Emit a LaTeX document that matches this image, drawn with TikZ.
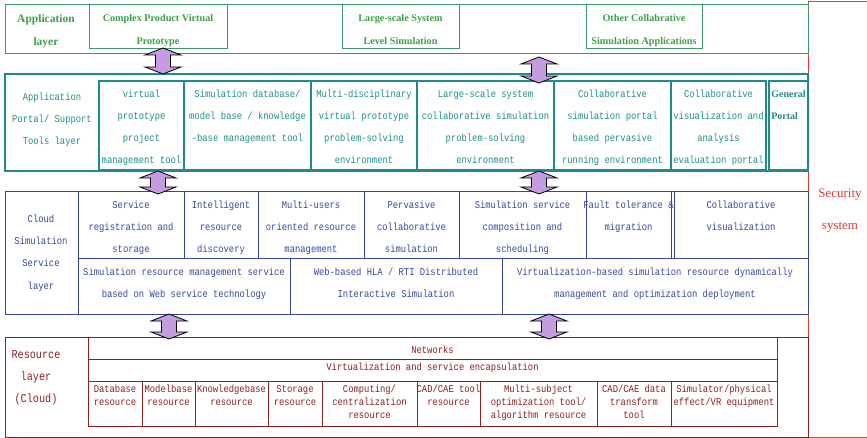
\documentclass[tikz,border=0pt]{standalone}
\usepackage{fontspec}
\setmainfont{Liberation Serif}
\setmonofont{Liberation Mono}[FakeStretch=0.85]
\usepackage{tikz}
\definecolor{leafgreen}{HTML}{3FA048}
\definecolor{appline}{HTML}{3A9B6A}
\definecolor{tealline}{HTML}{1E8C8C}
\definecolor{cloudblue}{HTML}{3546A0}
\definecolor{rustred}{HTML}{8E1F1F}
\definecolor{alarmred}{HTML}{E53935}
\definecolor{lilac}{HTML}{C49CE0}

\newcommand{\firststrut}{\rule{0pt}{9pt}}
% frame of a layer: name, x1, y1, x2, y2, style
\newcommand{\layerframe}[6]{%
  \node[#6, minimum width={(#4-#2)*1pt}, minimum height={(#5-#3)*1pt}] (#1) at ({(#2+#4)/2},{(#3+#5)/2}) {};}
% box with top-aligned text: name, x1, y1, x2, y2, style prefix, first line y, text
\newcommand{\simcell}[8]{%
  \node[#6box, minimum width={(#4-#2)*1pt}, minimum height={(#5-#3)*1pt}] (#1) at ({(#2+#4)/2},{(#3+#5)/2}) {};
  \node[#6text, anchor=north] (#1-t) at ({(#2+#4)/2},{#7-5.9}) {\firststrut#8};}
% two-headed block arrow: x, top tip, bottom tip
\newcommand{\dualarrow}[3]{%
  \draw[updown] (#1,#2) -- ++(18,7) -- ++(-10.5,0) -- ({#1+7.5},{#3-7}) -- ++(10.5,0)
    -- (#1,#3) -- ++(-18,-7) -- ++(10.5,0) -- ({#1-7.5},{#2+7}) -- ++(-10.5,0) -- cycle;}

\begin{document}
\begin{tikzpicture}[x=1pt, y=-1pt,
  appbox/.style={draw=appline, line width=1pt, inner sep=0},
  apptext/.style={font=\fontsize{10.2}{22.5}\selectfont\bfseries, text=leafgreen, align=center, inner sep=0},
  portbox/.style={draw=tealline, line width=1.1pt, inner sep=0},
  porttext/.style={font=\ttfamily\fontsize{10.4}{22}\selectfont, text=tealline, align=center, inner sep=0},
  genbox/.style={portbox},
  gentext/.style={font=\fontsize{10}{22}\selectfont\bfseries, text=tealline, align=left, inner sep=0},
  cloudbox/.style={draw=cloudblue, line width=1pt, inner sep=0},
  cloudtext/.style={font=\ttfamily\fontsize{10.4}{22.3}\selectfont, text=cloudblue, align=center, inner sep=0},
  resbox/.style={draw=rustred, line width=1pt, inner sep=0},
  restext/.style={font=\ttfamily\fontsize{10.4}{13}\selectfont, text=rustred, align=center, inner sep=0},
  updown/.style={fill=lilac, draw=black, line width=0.8pt, line join=miter}]
  \useasboundingbox (0,0) rectangle (867,438);

  % Security system
  \node[draw=alarmred, line width=1pt, inner sep=0, minimum width=64pt, minimum height=435pt] (secsys) at (840,219.5) {};
  \node[font=\fontsize{13}{32}\selectfont, text=alarmred, align=center, inner sep=0, anchor=north] (secsys-t) at (840,187) {\rule{0pt}{10pt}Security\\system};

  % Application layer
  \layerframe{applayer}{5}{5}{808}{54}{appbox}
  \node[font=\fontsize{11.5}{23}\selectfont\bfseries, text=leafgreen, align=center, inner sep=0, anchor=north] (applbl) at (46,{19-5.2}) {\firststrut Application\\layer};
  \simcell{cpvp}{89}{5}{227}{49}{app}{18.5}{Complex Product Virtual\\Prototype}
  \simcell{lssl}{342}{5}{459}{49}{app}{18.5}{Large-scale System\\Level Simulation}
  \simcell{ocsa}{586}{5}{702}{49}{app}{18.5}{Other Collabrative\\Simulation Applications}

  % Application portal / support tools layer
  \layerframe{portlayer}{5}{74}{808}{171}{portbox}
  \node[porttext, anchor=north] (portlbl) at (52,{97-5.9}) {\firststrut Application\\Portal/ Support\\Tools layer};
  \simcell{vppm}{99}{81}{184}{170}{port}{94}{virtual\\prototype\\project\\management tool}
  \simcell{sdbm}{184}{81}{311}{170}{port}{94}{Simulation database/\\model base / knowledge\\-base management tool}
  \simcell{mdvp}{311}{81}{417}{170}{port}{94}{Multi-disciplinary\\virtual prototype\\problem-solving\\environment}
  \simcell{lscs}{417}{81}{554}{170}{port}{94}{Large-scale system\\collaborative simulation\\problem-solving\\environment}
  \simcell{csp}{554}{81}{671}{170}{port}{94}{Collaborative\\simulation portal\\based pervasive\\running environment}
  \simcell{cvae}{671}{81}{766}{170}{port}{94}{Collaborative\\visualization and\\analysis\\evaluation portal}
  \simcell{genp}{769}{81}{808}{170}{gen}{94}{General\\Portal}

  % Cloud simulation service layer
  \layerframe{cloudlayer}{5}{192}{808}{314}{cloudbox}
  \node[cloudtext, anchor=north] (cloudlbl) at (41,{219-5.9}) {\firststrut Cloud\\Simulation\\Service\\layer};
  \simcell{srs}{78}{192}{184}{259}{cloud}{205}{Service\\registration and\\storage}
  \simcell{ird}{184}{192}{258}{259}{cloud}{205}{Intelligent\\resource\\discovery}
  \simcell{mrm}{258}{192}{364}{259}{cloud}{205}{Multi-users\\oriented resource\\management}
  \simcell{pcs}{364}{192}{459}{259}{cloud}{205}{Pervasive\\collaborative\\simulation}
  \simcell{ssc}{459}{192}{586}{259}{cloud}{205}{Simulation service\\composition and\\scheduling}
  \simcell{ftm}{586}{192}{671}{259}{cloud}{205}{Fault tolerance \&\\migration}
  \simcell{cvis}{674}{192}{808}{259}{cloud}{205}{Collaborative\\visualization}
  \simcell{srm}{78}{259}{290}{314}{cloud}{272}{Simulation resource management service\\based on Web service technology}
  \simcell{hla}{290}{259}{502}{314}{cloud}{272}{Web-based HLA / RTI Distributed\\Interactive Simulation}
  \simcell{vbs}{502}{259}{808}{314}{cloud}{272}{Virtualization-based simulation resource dynamically\\management and optimization deployment}

  % Resource layer
  \layerframe{reslayer}{5}{337}{808}{437}{resbox}
  \node[font=\ttfamily\fontsize{12}{22}\selectfont, text=rustred, align=center, inner sep=0, anchor=north] (reslbl) at (36,{354-6.2}) {\rule{0pt}{10pt}Resource\\layer\\(Cloud)};
  \simcell{net}{88}{337}{777}{359}{res}{350}{Networks}
  \simcell{vse}{88}{359}{777}{381}{res}{367}{Virtualization and service encapsulation}
  \simcell{dbr}{88}{381}{142}{426}{res}{389}{Database\\resource}
  \simcell{mbr}{142}{381}{195}{426}{res}{389}{Modelbase\\resource}
  \simcell{kbr}{195}{381}{268}{426}{res}{389}{Knowledgebase\\resource}
  \simcell{stor}{268}{381}{322}{426}{res}{389}{Storage\\resource}
  \simcell{ccr}{322}{381}{417}{426}{res}{389}{Computing/\\centralization\\resource}
  \simcell{cadt}{417}{381}{480}{426}{res}{389}{CAD/CAE tool\\resource}
  \simcell{mso}{480}{381}{597}{426}{res}{389}{Multi-subject\\optimization tool/\\algorithm resource}
  \simcell{cdt}{597}{381}{671}{426}{res}{389}{CAD/CAE data\\transform\\tool}
  \simcell{simr}{671}{381}{777}{426}{res}{389}{Simulator/physical\\effect/VR equipment}

  % Arrows between layers
  \dualarrow{163}{48}{74}
  \dualarrow{539}{57}{83}
  \dualarrow{158}{171}{194}
  \dualarrow{539}{171}{194}
  \dualarrow{169}{314}{339}
  \dualarrow{549}{314}{339}
\end{tikzpicture}
\end{document}
